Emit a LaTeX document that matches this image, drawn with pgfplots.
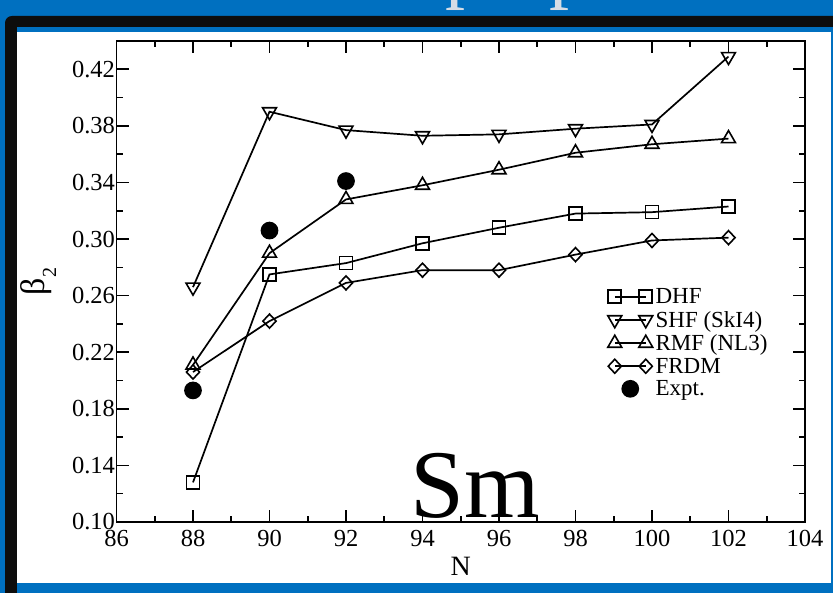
\documentclass[border=0pt]{standalone}
\usepackage{pgfplots}
\pgfplotsset{compat=1.18}
\usepackage{fontspec}
\setmainfont{Liberation Serif}
\definecolor{slideblue}{HTML}{0070C0}
\definecolor{titlegrey}{HTML}{D5DDE6}

% Deformation parameter beta_2 of Sm isotopes
\pgfplotstableread{
N    dhf    shf    rmf    frdm
88   0.128  0.266  0.211  0.206
90   0.275  0.390  0.290  0.242
92   0.283  0.377  0.328  0.269
94   0.297  0.373  0.338  0.278
96   0.308  0.374  0.349  0.278
98   0.318  0.378  0.361  0.289
100  0.319  0.381  0.367  0.299
102  0.323  0.429  0.371  0.301
}\theory
\pgfplotstableread{
N    b2
88   0.193
90   0.306
92   0.341
}\expt

\pgfplotsset{
  pairlegend/.style={legend image code/.code={
      \path (-7pt,0pt) (38pt,0pt);
      \draw[##1] plot coordinates {(0pt,0pt) (31pt,0pt)};}},
  dotlegend/.style={legend image code/.code={
      \path (-7pt,0pt) (38pt,0pt);
      \draw[##1] plot coordinates {(15.5pt,0pt)};}},
}

\begin{document}
\begin{tikzpicture}[x=1pt,y=1pt]
\useasboundingbox (0,0) rectangle (833,593);
% slide background and frame
\fill[slideblue] (0,0) rectangle (833,593);
\node[anchor=base west, inner sep=0pt, text=titlegrey]
  at (445,599) {\fontsize{80}{80}\selectfont p};
\node[anchor=base west, inner sep=0pt, text=titlegrey]
  at (549,599) {\fontsize{80}{80}\selectfont p};
\fill[black!95, rounded corners=7pt] (5,-12) rectangle (850,577);
\fill[slideblue] (17,-12) rectangle (850,566);
\fill[white] (17,10) rectangle (831,561);

\begin{axis}[
  at={(116.5pt,71pt)}, anchor=south west,
  scale only axis, width=688.5pt, height=481pt,
  xmin=86, xmax=104, ymin=0.10, ymax=0.44,
  xtick={86,88,...,104},
  ytick={0.10,0.14,0.18,0.22,0.26,0.30,0.34,0.38,0.42},
  minor x tick num=1, minor y tick num=1,
  tick align=inside,
  major tick length=12pt, minor tick length=6pt,
  axis line style={line width=1.6pt},
  every tick/.style={line width=1.6pt, black},
  tick label style={font=\fontsize{24.5}{24.5}\selectfont},
  /pgf/number format/assume math mode=true,
  yticklabel style={/pgf/number format/fixed, /pgf/number format/fixed zerofill,
    /pgf/number format/precision=2, xshift=2pt},
  xticklabel style={yshift=-5pt},
  xlabel={N}, xlabel style={font=\fontsize{28}{28}\selectfont, yshift=-3pt},
  ylabel={β\raisebox{-0.35em}{\fontsize{20}{20}\selectfont 2}},
  ylabel style={font=\fontsize{34}{34}\selectfont, yshift=9pt},
  legend cell align=left,
  legend style={draw=none, fill=none, at={(0.712,0.490)}, anchor=north west,
    font=\fontsize{23}{23}\selectfont, inner sep=0pt, row sep=2pt,
    /tikz/every even column/.append style={column sep=0pt}},
  every axis plot/.append style={line width=1.7pt, black},
]
\addplot[mark=square, mark size=6.5pt, mark options={line width=1.6pt}, pairlegend]
  table[x=N, y=dhf] {\theory};
\addlegendentry{DHF}
\addplot[mark=triangle, mark size=8pt, mark options={line width=1.6pt, rotate=180}, pairlegend]
  table[x=N, y=shf] {\theory};
\addlegendentry{SHF (SkI4)}
\addplot[mark=triangle, mark size=8pt, mark options={line width=1.6pt}, pairlegend]
  table[x=N, y=rmf] {\theory};
\addlegendentry{RMF (NL3)}
\addplot[mark=diamond, mark size=7pt, mark options={line width=1.6pt, xscale=1.25}, pairlegend]
  table[x=N, y=frdm] {\theory};
\addlegendentry{FRDM}
\addplot[only marks, mark=*, mark size=8pt, mark options={fill=black}, dotlegend]
  table[x=N, y=b2] {\expt};
\addlegendentry{Expt.}
\node[anchor=base, inner sep=0pt] at (axis cs:95.37,0.1035)
  {\fontsize{97}{97}\selectfont Sm};
\end{axis}
\end{tikzpicture}
\end{document}
